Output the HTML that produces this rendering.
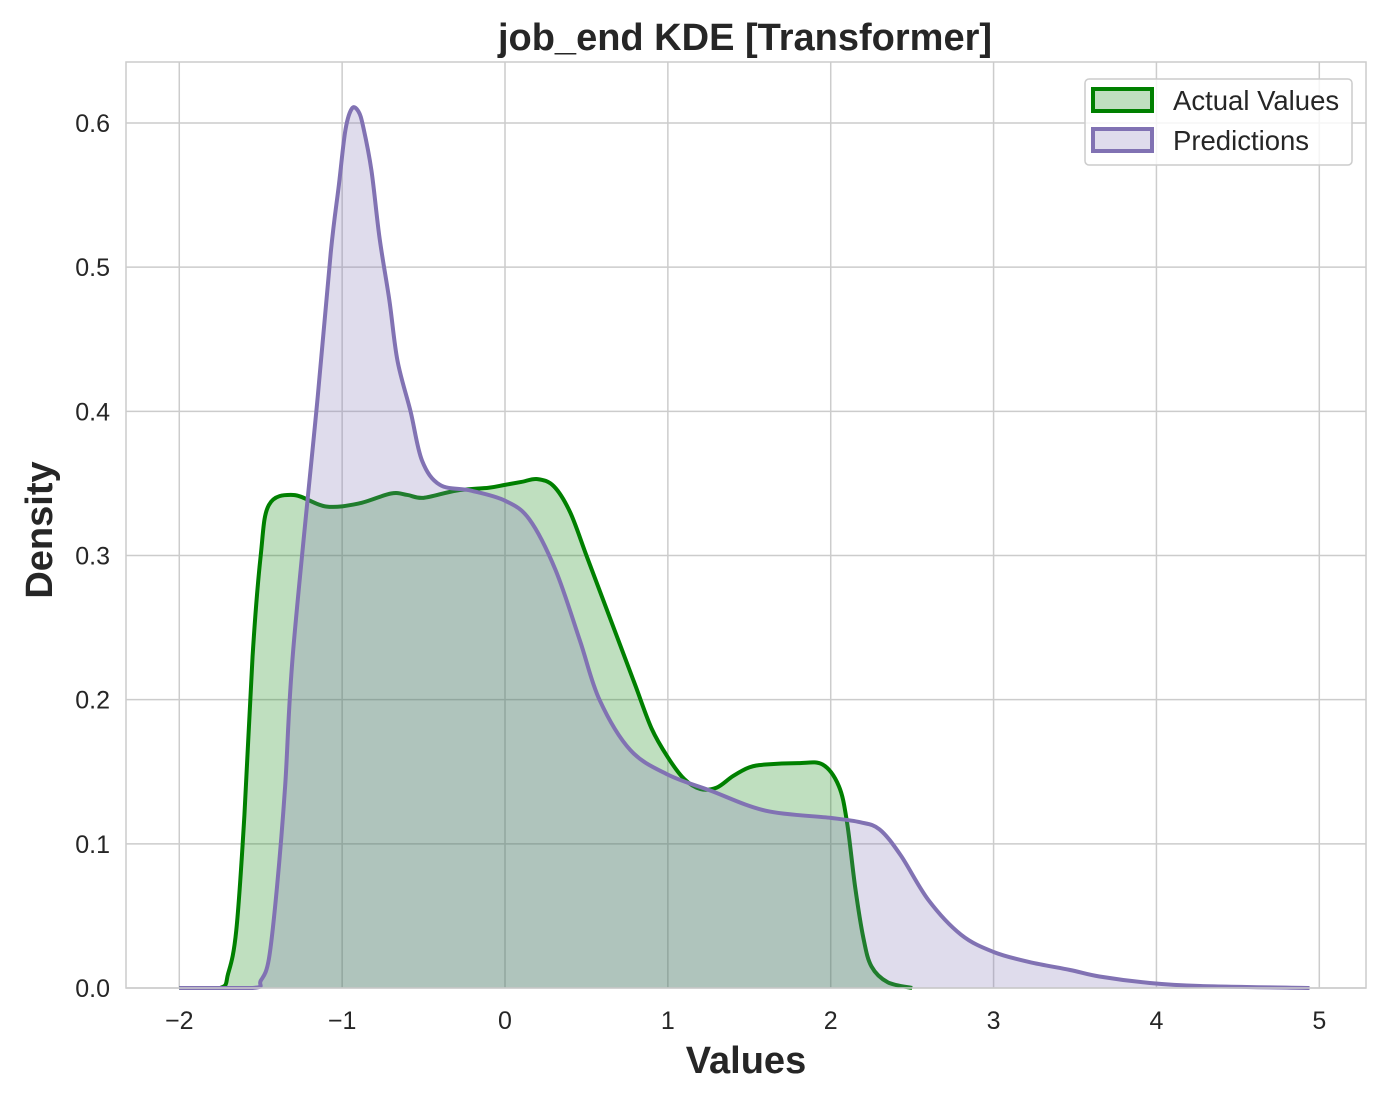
<!DOCTYPE html>
<html><head><meta charset="utf-8"><style>
body{margin:0;background:#fff;}
svg text{font-family:"Liberation Sans",Arial,sans-serif;fill:#262626;}
</style></head><body>
<svg id="chart" width="1385" height="1101" xmlns="http://www.w3.org/2000/svg">
<rect x="0" y="0" width="1385" height="1101" fill="#fff"/>
<g id="grid"></g>
<g id="series"></g>
<rect x="126" y="62" width="1240" height="926" fill="none" stroke="#cccccc" stroke-width="1.5"/>
<g id="ticks"></g>
<text x="745" y="50" font-size="38" font-weight="bold" text-anchor="middle">job_end KDE [Transformer]</text>
<text x="746" y="1073" font-size="38" font-weight="bold" text-anchor="middle">Values</text>
<text x="52" y="530" font-size="38" font-weight="bold" text-anchor="middle" transform="rotate(-90 52 530)">Density</text>
<g>
<rect x="1085" y="79" width="267" height="86" rx="4" fill="#fff" fill-opacity="0.8" stroke="#cccccc" stroke-width="1.5"/>
<g>
<rect x="1093" y="89" width="59" height="22" fill="rgba(0,128,0,0.25)" stroke="#008000" stroke-width="4"/>
<text x="1173" y="110" font-size="27.5">Actual Values</text></g>
<g>
<rect x="1093" y="129" width="59" height="22" fill="rgba(129,114,179,0.25)" stroke="#8172b3" stroke-width="4"/>
<text x="1173" y="150" font-size="27.5">Predictions</text></g>
</g>
</svg>
<script>
const xTicks=[-2,-1,0,1,2,3,4,5];
const yTicks=[0.0,0.1,0.2,0.3,0.4,0.5,0.6];
const actualX=[-2,-1.75,-1.7,-1.65,-1.6,-1.55,-1.5,-1.45,-1.3,-1.1,-0.9,-0.7,-0.6,-0.5,-0.3,-0.1,0,0.1,0.2,0.3,0.4,0.5,0.6,0.7,0.8,0.9,1.0,1.1,1.2,1.3,1.4,1.5,1.6,1.8,1.95,2.05,2.1,2.15,2.2,2.25,2.35,2.5];
const actualY=[0,0,0.01,0.04,0.12,0.23,0.30,0.335,0.342,0.334,0.336,0.343,0.342,0.340,0.345,0.347,0.349,0.351,0.353,0.348,0.33,0.30,0.27,0.24,0.21,0.18,0.16,0.145,0.138,0.139,0.147,0.153,0.155,0.156,0.155,0.14,0.115,0.07,0.035,0.015,0.004,0];
const predX=[-2,-1.55,-1.5,-1.45,-1.4,-1.35,-1.3,-1.15,-1.07,-1.02,-0.98,-0.94,-0.9,-0.87,-0.82,-0.77,-0.71,-0.66,-0.58,-0.51,-0.4,-0.21,0,0.15,0.31,0.46,0.58,0.77,1.0,1.26,1.6,2.0,2.18,2.3,2.43,2.6,2.8,3.0,3.22,3.47,3.65,3.96,4.27,4.94];
const predY=[0,0,0.005,0.02,0.07,0.14,0.235,0.41,0.51,0.557,0.595,0.61,0.608,0.597,0.567,0.52,0.477,0.435,0.40,0.366,0.349,0.345,0.338,0.325,0.29,0.241,0.2,0.165,0.148,0.137,0.123,0.118,0.115,0.11,0.092,0.061,0.037,0.025,0.018,0.0125,0.008,0.0035,0.0014,0];
const NS="http://www.w3.org/2000/svg";
const sx=v=>505+v*162.86, sy=v=>988-v*1441.7;
function mk(t,a,p){const e=document.createElementNS(NS,t);for(const k in a)e.setAttribute(k,a[k]);p.appendChild(e);return e;}
const grid=document.getElementById('grid'),ticks=document.getElementById('ticks'),ser=document.getElementById('series');
xTicks.forEach(t=>{const l=mk('line',{x1:sx(t),x2:sx(t),y1:62,y2:988,stroke:'#cccccc','stroke-width':1.5},grid);


const tx=mk('text',{x:sx(t),y:1029,'font-size':25,'text-anchor':'middle'},ticks);tx.textContent=t<0?'\u2212'+(-t):String(t);

});
yTicks.forEach(t=>{const l=mk('line',{x1:126,x2:1366,y1:sy(t),y2:sy(t),stroke:'#cccccc','stroke-width':1.5},grid);


const tx=mk('text',{x:110,y:sy(t)+9,'font-size':25,'text-anchor':'end'},ticks);tx.textContent=t.toFixed(1);

});
function smooth(xs,ys){const P=xs.map((x,i)=>[sx(x),sy(ys[i])]);let d='M'+P[0][0]+','+P[0][1];
for(let i=0;i<P.length-1;i++){const p0=P[Math.max(0,i-1)],p1=P[i],p2=P[i+1],p3=P[Math.min(P.length-1,i+2)];
let c1y=p1[1]+(p2[1]-p0[1])/6,c2y=p2[1]-(p3[1]-p1[1])/6;c1y=Math.min(988,c1y);c2y=Math.min(988,c2y);
d+=' C'+(p1[0]+(p2[0]-p0[0])/6)+','+c1y+' '+(p2[0]-(p3[0]-p1[0])/6)+','+c2y+' '+p2[0]+','+p2[1];}return d;}
function draw(xs,ys,col,fill,name){const d=smooth(xs,ys);
const a=mk('path',{d:d+' L'+sx(xs[xs.length-1])+',988 L'+sx(xs[0])+',988 Z',fill:fill,stroke:'none'},ser);


const l=mk('path',{d:d,fill:'none',stroke:col,'stroke-width':4,'stroke-linejoin':'round'},ser);

}
draw(actualX,actualY,'#008000','rgba(0,128,0,0.25)','actual-values');
draw(predX,predY,'#8172b3','rgba(129,114,179,0.25)','predictions');
</script>
</body></html>
